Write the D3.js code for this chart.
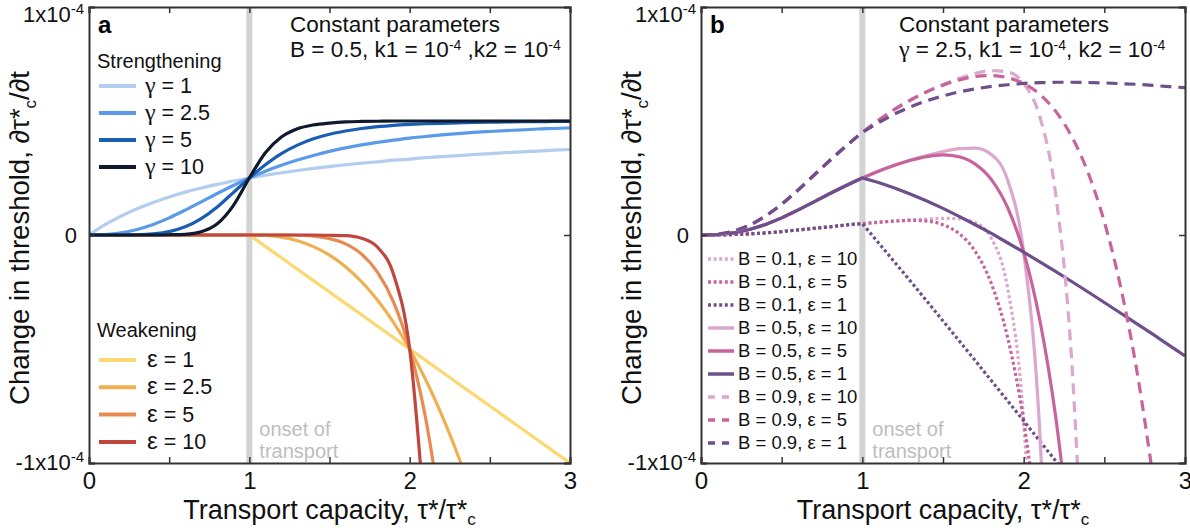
<!DOCTYPE html>
<html>
<head>
<meta charset="utf-8">
<script src="https://cdnjs.cloudflare.com/ajax/libs/d3/7.8.5/d3.min.js"></script>
<style>
  body { margin: 0; background: #fff; }
  svg { font-family: "Liberation Sans", Arial, sans-serif; }
</style>
</head>
<body>
<div class="chart"></div>
<script>
// Chart size
var svgWidth = 1190;
var svgHeight = 531;

// x positions shared by every curve (tau*/tau*c)
var xGrid = [0, 0.1, 0.2, 0.3, 0.4, 0.5, 0.6, 0.7, 0.8, 0.9, 1, 1.1, 1.2, 1.3, 1.4, 1.5, 1.6, 1.7, 1.8, 1.9, 2,
             2.1, 2.2, 2.3, 2.4, 2.5, 2.6, 2.7, 2.8, 2.9, 3];
var xTicks = [0, 0.5, 1, 1.5, 2, 2.5, 3];
var yTicks = [-1, 0, 1];

// Panel a: values in units of 1e-4
var strGamma1 = [0, .045, .083, .115, .143, .167, .188, .206, .222, .237, .25, .262, .273, .283, .292, .3, .308, .315, .321, .328, .333,
                 .339, .344, .348, .353, .357, .361, .365, .368, .372, .375];
var strGamma2_5 = [0, .002, .009, .024, .046, .075, .109, .145, .182, .217, .25, .28, .306, .329, .349, .367, .382, .395, .406, .416, .425,
                   .432, .439, .445, .45, .454, .458, .461, .465, .467, .47];
var strGamma5 = [0, 0, 0, .001, .005, .015, .036, .072, .123, .186, .25, .308, .357, .394, .422, .442, .456, .467, .475, .481, .485,
                 .488, .49, .492, .494, .495, .496, .497, .497, .498, .498];
var strGamma10 = [0, 0, 0, 0, 0, .001, .003, .014, .049, .129, .25, .361, .43, .466, .483, .491, .496, .498, .499, .5, .5,
                  .5, .5, .5, .5, .5, .5, .5, .5, .5, .5];

var weakEps1 = [0, 0, 0, 0, 0, 0, 0, 0, 0, 0, 0, -.05, -.1, -.15, -.2, -.25, -.3, -.35, -.4, -.45, -.5,
                -.55, -.6, -.65, -.7, -.75, -.8, -.85, -.9, -.95, -1];
var weakEps2_5 = [0, 0, 0, 0, 0, 0, 0, 0, 0, 0, 0, -.002, -.009, -.025, -.051, -.088, -.139, -.205, -.286, -.384, -.5,
                  -.635, -.789, -.964, -1.16];
var weakEps5 = [0, 0, 0, 0, 0, 0, 0, 0, 0, 0, 0, 0, 0, -.001, -.005, -.016, -.039, -.084, -.164, -.295, -.5,
                -.805, -1.244];
var weakEps10 = [0, 0, 0, 0, 0, 0, 0, 0, 0, 0, 0, 0, 0, 0, 0, -.001, -.003, -.014, -.054, -.174, -.5,
                 -1.297];

// Panel b: values in units of 1e-4
var b01e10 = [0, 0, .002, .005, .009, .015, .022, .029, .036, .044, .05, .056, .061, .066, .07, .073, .071, .054, -.015, -.231, -.815,
              -2.25];
var b01e5 = [0, 0, .002, .005, .009, .015, .022, .029, .036, .044, .05, .056, .061, .064, .061, .045, .006, -.072, -.214, -.448, -.815,
             -1.363];
var b01e1 = [0, 0, .002, .005, .009, .015, .022, .029, .036, .044, .05, -.034, -.119, -.204, -.29, -.377, -.464, -.551, -.639, -.727, -.815,
             -.904, -.992, -1.081];
var b05e10 = [0, .002, .009, .024, .046, .075, .109, .145, .182, .217, .25, .28, .306, .329, .349, .366, .379, .381, .353, .242, -.075,
              -.865, -2.657];
var b05e5 = [0, .002, .009, .024, .046, .075, .109, .145, .182, .217, .25, .28, .306, .328, .344, .351, .343, .311, .243, .121, -.075,
             -.373, -.805, -1.412];
var b05e1 = [0, .002, .009, .024, .046, .075, .109, .145, .182, .217, .25, .23, .206, .179, .149, .117, .082, .045, .007, -.034, -.075,
             -.118, -.161, -.205, -.25, -.296, -.342, -.389, -.435, -.483, -.53];
var b09e10 = [0, .003, .016, .042, .083, .135, .196, .262, .328, .391, .45, .503, .551, .593, .629, .66, .687, .709, .721, .715, .665,
              .519, .171, -.578, -2.083];
var b09e5 = [0, .003, .016, .042, .083, .135, .196, .262, .328, .391, .45, .503, .551, .592, .628, .657, .68, .695, .699, .69, .665,
             .617, .541, .429, .272, .058, -.224, -.589, -1.053];
var b09e1 = [0, .003, .016, .042, .083, .135, .196, .262, .328, .391, .45, .493, .531, .563, .589, .61, .628, .641, .652, .659, .665,
             .668, .67, .67, .669, .667, .664, .661, .656, .651, .646];

// Legend labels
var gammaLabels = ["1", "2.5", "5", "10"];
var epsLabels = ["1", "2.5", "5", "10"];
var bLabels = ["B = 0.1, ε = 10", "B = 0.1, ε = 5", "B = 0.1, ε = 1",
               "B = 0.5, ε = 10", "B = 0.5, ε = 5", "B = 0.5, ε = 1",
               "B = 0.9, ε = 10", "B = 0.9, ε = 5", "B = 0.9, ε = 1"];

var blues = ["#b3cdf1", "#5a9ae8", "#1c5db4", "#0f1b2d"];
var oranges = ["#fcd872", "#f0b050", "#e98b51", "#bf473e"];
var pinks = ["#dba7cc", "#c7649e", "#6d4f8a"];
var dashes = [null, "11,7", "3,2.6"];

var svg = d3.select(".chart")
    .append("svg")
    .attr("width", svgWidth)
    .attr("height", svgHeight);

// helper: writes a "1x10^-4" style label
function sciLabel(sel, mant) {
    sel.append("tspan").text(mant + "x10");
    sel.append("tspan").attr("dy", -8).attr("font-size", "15px").text("-4");
}

function drawPanel(p) {
    var width = p.w, height = 456;
    var g = svg.append("g").attr("transform", `translate(${p.left}, 7)`);

    var x = d3.scaleLinear().domain([0, 3]).range([0, width]);
    var y = d3.scaleLinear().domain([-1, 1]).range([height, 0]);

    g.append("clipPath").attr("id", "clip" + p.id)
        .append("rect").attr("width", width).attr("height", height);

    // onset band at x = 1
    g.append("rect")
        .attr("x", x(1) - 3).attr("y", 0)
        .attr("width", 6).attr("height", height)
        .attr("fill", "#d3d3d3");

    g.append("text")
        .attr("x", x(1) + 10).attr("y", height - 27)
        .attr("font-size", "20px").attr("fill", "#bdbdbd")
        .selectAll("tspan").data(["onset of", "transport"]).enter()
        .append("tspan").attr("x", x(1) + 10).attr("dy", (d, i) => i ? 22 : 0).text(d => d);

    var line = d3.line()
        .x((d, i) => x(xGrid[i]))
        .y(d => y(d));

    var lines = g.append("g").attr("clip-path", `url(#clip${p.id})`);
    p.series.forEach(function(s) {
        lines.append("path")
            .datum(s.values)
            .attr("fill", "none")
            .attr("stroke", s.color)
            .attr("stroke-width", 3.2)
            .attr("stroke-dasharray", s.dash)
            .attr("d", line.curve(s.linear ? d3.curveLinear : d3.curveMonotoneX));
    });

    // axes
    var bottomAxis = d3.axisBottom(x).tickValues(xTicks).tickSize(-6).tickPadding(9)
        .tickFormat(d => Number.isInteger(d) ? d : "");
    var topAxis = d3.axisTop(x).tickValues(xTicks).tickSize(-6).tickFormat("");
    var leftAxis = d3.axisLeft(y).tickValues(yTicks).tickSize(-6).tickFormat("");
    var rightAxis = d3.axisRight(y).tickValues(yTicks).tickSize(-6).tickFormat("");

    var ax = g.append("g").attr("transform", `translate(0, ${height})`).call(bottomAxis);
    ax.selectAll("text").attr("font-size", "24px").attr("fill", "#111").attr("font-family", "Liberation Sans, Arial");
    g.append("g").call(topAxis);
    g.append("g").call(leftAxis);
    g.append("g").attr("transform", `translate(${width}, 0)`).call(rightAxis);
    g.selectAll(".domain").attr("stroke", "#333").attr("stroke-width", 2);
    g.selectAll(".tick line").attr("stroke", "#333").attr("stroke-width", 1.5);

    // y tick labels
    var yl = g.append("g").attr("font-size", "22px").attr("fill", "#111").attr("text-anchor", "end");
    sciLabel(yl.append("text").attr("x", -5).attr("y", y(1) + 15), "1");
    yl.append("text").attr("x", -12).attr("y", y(0) + 8).text("0");
    sciLabel(yl.append("text").attr("x", -5).attr("y", y(-1) + 7), "-1");

    // panel letter
    g.append("text").attr("x", 9).attr("y", 26)
        .attr("font-size", "24px").attr("font-weight", "bold").text(p.id);

    // constant parameter box
    var cp = g.append("g").attr("font-size", "22.5px").attr("fill", "#111");
    cp.append("text").attr("x", p.cpX).attr("y", 25).text("Constant parameters");
    var t2 = cp.append("text").attr("x", p.cpX).attr("y", 50);
    p.cpLine(t2);

    // axis titles
    var xt = g.append("text")
        .attr("x", width / 2).attr("y", height + 56)
        .attr("text-anchor", "middle").attr("font-size", "27px").attr("fill", "#111");
    xt.append("tspan").text("Transport capacity, τ*/τ*");
    xt.append("tspan").attr("dy", 6).attr("font-size", "17px").text("c");

    var yt = g.append("text")
        .attr("transform", `translate(-60, ${height / 2 + 3}) rotate(-90)`)
        .attr("text-anchor", "middle").attr("font-size", "27.5px").attr("fill", "#111");
    yt.append("tspan").text("Change in threshold, ∂τ*");
    yt.append("tspan").attr("dy", 7).attr("font-size", "17px").text("c");
    yt.append("tspan").attr("dy", -7).text("/∂t");

    return g;
}

function superTen(sel) {
    sel.append("tspan").text("10");
    sel.append("tspan").attr("dy", -7).attr("font-size", "14px").text("-4");
}

// ---------- panel a ----------
var ga = drawPanel({
    id: "a", left: 89, w: 481, cpX: 201,
    series: [
        {values: weakEps1, color: oranges[0], linear: true},
        {values: weakEps2_5, color: oranges[1]},
        {values: weakEps5, color: oranges[2]},
        {values: weakEps10, color: oranges[3]},
        {values: strGamma1, color: blues[0]},
        {values: strGamma2_5, color: blues[1]},
        {values: strGamma5, color: blues[2]},
        {values: strGamma10, color: blues[3]}
    ],
    cpLine: function(t) {
        t.append("tspan").text("B = 0.5, k1 = ");
        superTen(t);
        t.append("tspan").attr("dy", 7).text(" ,k2 = ");
        superTen(t);
    }
});

// legend a
var la = ga.append("g").attr("font-size", "20px").attr("fill", "#111");
la.append("text").attr("x", 8).attr("y", 61).text("Strengthening");
gammaLabels.forEach(function(lab, i) {
    var yy = 79 + i * 27;
    la.append("line").attr("x1", 10).attr("x2", 47).attr("y1", yy).attr("y2", yy)
        .attr("stroke", blues[i]).attr("stroke-width", 4);
    var t = la.append("text").attr("x", 56).attr("y", yy + 7).attr("font-size", "21.5px");
    t.append("tspan").attr("font-family", "Liberation Serif, serif").attr("font-size", "24px").text("γ");
    t.append("tspan").text(" = " + lab);
});
la.append("text").attr("x", 8).attr("y", 330).text("Weakening");
epsLabels.forEach(function(lab, i) {
    var yy = 353 + i * 27.3;
    la.append("line").attr("x1", 10).attr("x2", 47).attr("y1", yy).attr("y2", yy)
        .attr("stroke", oranges[i]).attr("stroke-width", 4);
    var t = la.append("text").attr("x", 58).attr("y", yy + 7).attr("font-size", "21.5px");
    t.append("tspan").attr("font-size", "24px").text("ε");
    t.append("tspan").text(" = " + lab);
});

// ---------- panel b ----------
var bSeries = [b01e10, b01e5, b01e1, b05e10, b05e5, b05e1, b09e10, b09e5, b09e1];
var gb = drawPanel({
    id: "b", left: 701, w: 484, cpX: 198,
    series: bSeries.map(function(v, i) {
        var k = Math.floor(i / 3), c = i % 3;
        return {values: v, color: pinks[c], dash: dashes[k === 0 ? 2 : k === 1 ? 0 : 1], linear: c === 2};
    }),
    cpLine: function(t) {
        t.append("tspan").attr("font-family", "Liberation Serif, serif").attr("font-size", "24px").text("γ");
        t.append("tspan").text("  = 2.5, k1 = ");
        superTen(t);
        t.append("tspan").attr("dy", 7).text(", k2 = ");
        superTen(t);
    }
});

// legend b
var lb = gb.append("g").attr("font-size", "18.5px").attr("fill", "#111");
bLabels.forEach(function(lab, i) {
    var yy = 252 + i * 23;
    var k = Math.floor(i / 3);
    lb.append("line").attr("x1", 7).attr("x2", 33).attr("y1", yy).attr("y2", yy)
        .attr("stroke", pinks[i % 3]).attr("stroke-width", 3.5)
        .attr("stroke-dasharray", k === 0 ? "3,2.6" : k === 2 ? "7,7" : null);
    lb.append("text").attr("x", 37).attr("y", yy + 6).text(lab);
});
</script>
</body>
</html>
